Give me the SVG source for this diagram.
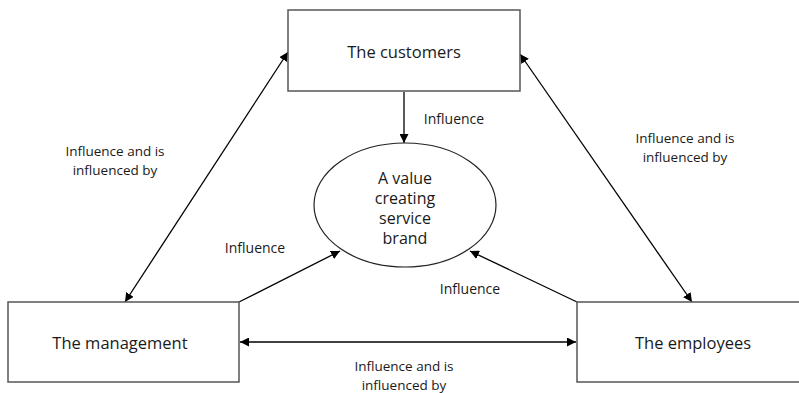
<svg xmlns="http://www.w3.org/2000/svg" width="799" height="393" viewBox="0 0 799 393">
<style>
.box{fill:#fff;stroke:#555;stroke-width:1.5}
.ell{fill:#fff;stroke:#222;stroke-width:1.2}
.ln{stroke:#000;stroke-width:1.3;fill:none}
.t{font-family:"Open Sans","Liberation Sans",sans-serif;fill:#1a1a1a;text-anchor:middle;dominant-baseline:central}
.big{font-size:16.5px}
.mid{font-size:16px}
.sm{font-size:14px}
.sm2{font-size:13.5px}
</style>
<defs>
<marker id="ah" viewBox="0 0 10 10" refX="10" refY="5" markerWidth="9" markerHeight="9" markerUnits="userSpaceOnUse" orient="auto-start-reverse">
<path d="M0,0 L10,5 L0,10 z" fill="#000"/>
</marker>
</defs>
<g id="connectors">
<line class="ln" x1="404" y1="92" x2="404" y2="143" marker-end="url(#ah)"/>
<line class="ln" x1="239" y1="302" x2="340" y2="251" marker-end="url(#ah)"/>
<line class="ln" x1="577" y1="302" x2="470" y2="251" marker-end="url(#ah)"/>
<line class="ln" x1="240" y1="342" x2="576" y2="342" marker-start="url(#ah)" marker-end="url(#ah)"/>
<line class="ln" x1="125" y1="302" x2="288" y2="52" marker-start="url(#ah)" marker-end="url(#ah)"/>
<line class="ln" x1="692" y1="302" x2="520" y2="54" marker-start="url(#ah)" marker-end="url(#ah)"/>
</g>
<g id="customers">
<rect class="box" x="288" y="10" width="232" height="81"/>
<text class="t big" x="404" y="51">The customers</text>
</g>
<g id="brand">
<ellipse class="ell" cx="405" cy="205" rx="91" ry="62"/>
<text class="t mid" x="405" y="178">A value</text>
<text class="t mid" x="405" y="198">creating</text>
<text class="t mid" x="405" y="218">service</text>
<text class="t mid" x="405" y="238">brand</text>
</g>
<g id="management">
<rect class="box" x="8" y="302" width="231" height="80"/>
<text class="t big" x="120" y="342">The management</text>
</g>
<g id="employees">
<rect class="box" x="577" y="302" width="240" height="80"/>
<text class="t big" x="693" y="342">The employees</text>
</g>
<g id="labels">
<text class="t sm" x="454" y="118">Influence</text>
<text class="t sm" x="255" y="247">Influence</text>
<text class="t sm" x="470" y="288">Influence</text>
<text class="t sm2" x="115" y="151">Influence and is</text>
<text class="t sm2" x="115" y="169.5">influenced by</text>
<text class="t sm2" x="685" y="138">Influence and is</text>
<text class="t sm2" x="685" y="156.5">influenced by</text>
<text class="t sm2" x="404" y="366">Influence and is</text>
<text class="t sm2" x="404" y="384.5">influenced by</text>
</g>
</svg>
